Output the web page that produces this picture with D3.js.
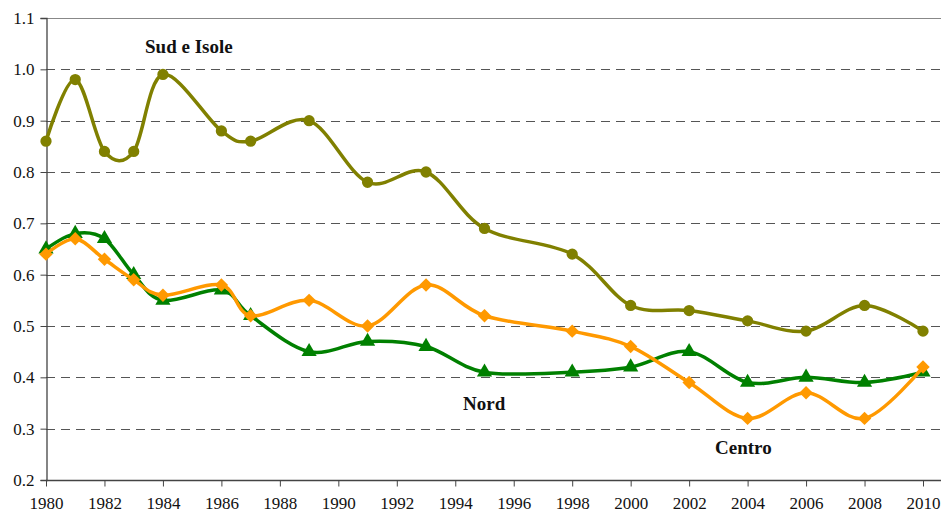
<!DOCTYPE html>
<html>
<head>
<meta charset="utf-8">
<script src="https://cdn.jsdelivr.net/npm/d3@7"></script>
<style>
  html, body { margin: 0; padding: 0; background: #fff; }
  svg { display: block; }
  svg text { font-family: "Liberation Serif", Tinos, "Times New Roman", "Nimbus Roman", "DejaVu Serif", serif !important; }
</style>
</head>
<body>
<svg id="chart" width="941" height="515"></svg>
<script>
const years = [1980, 1981, 1982, 1983, 1984, 1986, 1987, 1989, 1991, 1993, 1995, 1998, 2000, 2002, 2004, 2006, 2008, 2010];
const sudIsole = [0.86, 0.98, 0.84, 0.84, 0.99, 0.88, 0.86, 0.90, 0.78, 0.80, 0.69, 0.64, 0.54, 0.53, 0.51, 0.49, 0.54, 0.49];
const nord     = [0.65, 0.68, 0.67, 0.60, 0.55, 0.57, 0.52, 0.45, 0.47, 0.46, 0.41, 0.41, 0.42, 0.45, 0.39, 0.40, 0.39, 0.41];
const centro   = [0.64, 0.67, 0.63, 0.59, 0.56, 0.58, 0.52, 0.55, 0.50, 0.58, 0.52, 0.49, 0.46, 0.39, 0.32, 0.37, 0.32, 0.42];
const yTicks = [0.2, 0.3, 0.4, 0.5, 0.6, 0.7, 0.8, 0.9, 1.0, 1.1];
const xTicks = [1980, 1982, 1984, 1986, 1988, 1990, 1992, 1994, 1996, 1998, 2000, 2002, 2004, 2006, 2008, 2010];
const seriesNames = ["Sud e Isole", "Nord", "Centro"];

const FONT = "'Liberation Serif', Tinos, 'Times New Roman', 'Nimbus Roman', 'DejaVu Serif', serif";
const svg = d3.select("#chart");
const x = d3.scaleLinear().domain([1980, 2010]).range([46, 923]);
const y = d3.scaleLinear().domain([0.2, 1.1]).range([480, 18]);
const plotRight = 941;

// grid lines
svg.append("g").selectAll("line")
  .data(yTicks.filter(v => v > 0.2 && v < 1.1))
  .join("line")
  .attr("x1", 46).attr("x2", plotRight)
  .attr("y1", d => Math.round(y(d)) + 0.5).attr("y2", d => Math.round(y(d)) + 0.5)
  .attr("stroke", "#555").attr("stroke-width", 1)
  .attr("stroke-dasharray", "9,6");

// top border
svg.append("line")
  .attr("x1", 46).attr("x2", plotRight)
  .attr("y1", Math.round(y(1.1)) + 0.5).attr("y2", Math.round(y(1.1)) + 0.5)
  .attr("stroke", "#888").attr("stroke-width", 1.2);

// y axis
const yAxis = d3.axisLeft(y).tickValues(yTicks).tickFormat(d3.format(".1f")).tickSize(6).tickPadding(6);
const gy = svg.append("g").attr("transform", "translate(46.5,0)").call(yAxis);
gy.attr("font-family", FONT);
gy.select(".domain").attr("stroke", "#444").attr("stroke-width", 1.3);
gy.selectAll(".tick line").attr("stroke", "#444");
gy.selectAll(".tick text").attr("font-size", 17).attr("fill", "#111");

// x axis
const xAxis = d3.axisBottom(x).tickValues(xTicks).tickFormat(d3.format("d")).tickSize(6).tickPadding(10).tickSizeOuter(0);
const gx = svg.append("g").attr("transform", "translate(0,480.5)").call(xAxis);
gx.attr("font-family", FONT);
gx.select(".domain").attr("stroke", "#444").attr("stroke-width", 1.3).attr("d", `M46,0H${plotRight}`);
gx.selectAll(".tick line").attr("stroke", "#444");
gx.selectAll(".tick text").attr("font-size", 17).attr("fill", "#111");

const series = [
  { name: seriesNames[0], values: sudIsole, color: "#808000", marker: "circle" },
  { name: seriesNames[1], values: nord, color: "#008000", marker: "triangle" },
  { name: seriesNames[2], values: centro, color: "#FF9900", marker: "diamond" }
];

const line = d3.line()
  .x(d => x(d[0])).y(d => y(d[1]))
  .curve(d3.curveCardinal.tension(0));

const squareDiamond = {
  draw(ctx, size) {
    const r = Math.sqrt(size / 2);
    ctx.moveTo(0, -r); ctx.lineTo(r, 0); ctx.lineTo(0, r); ctx.lineTo(-r, 0); ctx.closePath();
  }
};
const symbolFor = { circle: d3.symbolCircle, triangle: d3.symbolTriangle, diamond: squareDiamond };
const sizeFor = { circle: 100, triangle: 100, diamond: 90 };

series.forEach(s => {
  const pts = years.map((yr, i) => [yr, s.values[i]]);
  svg.append("path")
    .datum(pts)
    .attr("fill", "none")
    .attr("stroke", s.color)
    .attr("stroke-width", 3.5)
    .attr("stroke-linejoin", "round")
    .attr("d", line);
  svg.append("g").selectAll("path")
    .data(pts)
    .join("path")
    .attr("transform", d => `translate(${x(d[0])},${y(d[1])})`)
    .attr("d", d3.symbol().type(symbolFor[s.marker]).size(sizeFor[s.marker]))
    .attr("fill", s.color);
});

// series labels
const labels = [
  { text: seriesNames[0], x: 145, y: 53 },
  { text: seriesNames[1], x: 463, y: 410 },
  { text: seriesNames[2], x: 715, y: 454 }
];
svg.append("g").attr("font-family", FONT).selectAll("text")
  .data(labels)
  .join("text")
  .attr("x", d => d.x).attr("y", d => d.y)
  .attr("font-size", 19).attr("font-weight", "bold").attr("fill", "#111")
  .text(d => d.text);
</script>
</body>
</html>
